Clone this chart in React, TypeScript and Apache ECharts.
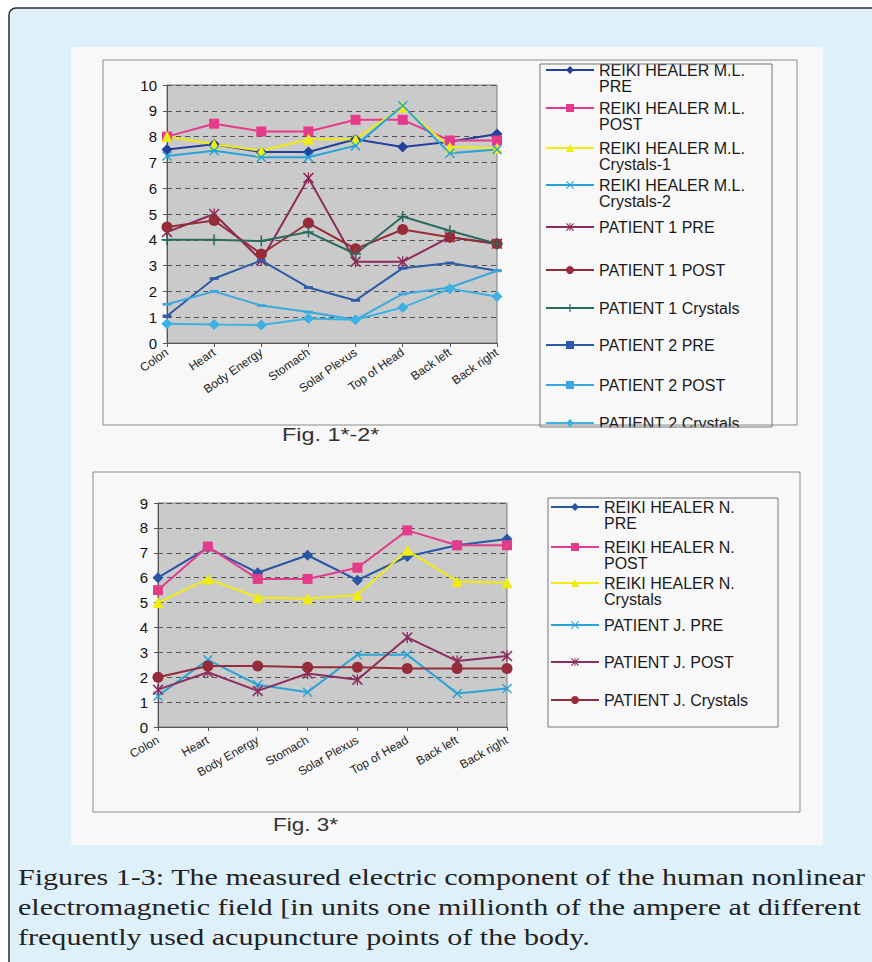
import React, { useEffect, useRef } from "react";
import * as echarts from "echarts";

const categories = ["Colon", "Heart", "Body Energy", "Stomach", "Solar Plexus", "Top of Head", "Back left", "Back right"];

// Fig. 1*-2*
const mlPre = [7.5, 7.7, 7.4, 7.4, 7.9, 7.6, 7.8, 8.1];
const mlPost = [8.0, 8.5, 8.2, 8.2, 8.65, 8.65, 7.85, 7.85];
const mlCrystals1 = [8.0, 7.7, 7.45, 7.9, 7.9, 9.15, 7.6, 7.55];
const mlCrystals2 = [7.25, 7.45, 7.2, 7.2, 7.65, 9.2, 7.35, 7.5];
const p1Pre = [4.3, 5.0, 3.2, 6.4, 3.15, 3.15, 4.1, 3.85];
const p1Post = [4.5, 4.75, 3.45, 4.65, 3.65, 4.4, 4.1, 3.85];
const p1Crystals = [4.0, 4.0, 3.95, 4.3, 3.45, 4.9, 4.35, 3.85];
const p2Pre = [1.05, 2.5, 3.2, 2.15, 1.65, 2.9, 3.1, 2.8];
const p2Post = [1.5, 2.0, 1.45, 1.2, 0.9, 1.9, 2.15, 2.8];
const p2Crystals = [0.75, 0.72, 0.7, 0.95, 0.9, 1.38, 2.1, 1.8];

// Fig. 3*
const nPre = [6.0, 7.2, 6.2, 6.9, 5.9, 6.85, 7.3, 7.55];
const nPost = [5.5, 7.25, 5.95, 5.95, 6.4, 7.9, 7.3, 7.3];
const nCrystals = [5.0, 5.95, 5.2, 5.15, 5.3, 7.1, 5.85, 5.8];
const jPre = [1.25, 2.7, 1.7, 1.4, 2.9, 2.9, 1.35, 1.55];
const jPost = [1.5, 2.2, 1.45, 2.15, 1.9, 3.6, 2.65, 2.85];
const jCrystals = [2.0, 2.45, 2.45, 2.4, 2.4, 2.35, 2.35, 2.35];

const topYMax = 10;
const bottomYMax = 9;

const captionLines = [
  "Figures 1-3: The measured electric component of the human nonlinear",
  "electromagnetic field [in units one millionth of the ampere at different",
  "frequently used acupuncture points of the body.",
];

const X_PATH = "path://M0,1L1,0L5,4L9,0L10,1L6,5L10,9L9,10L5,6L1,10L0,9L4,5Z";
const STAR_PATH = "path://M0,1L1,0L5,4L9,0L10,1L6,5L10,9L9,10L5,6L1,10L0,9L4,5ZM4.4,0L5.6,0L5.6,10L4.4,10Z";
const PLUS_PATH = "path://M4.3,0L5.7,0L5.7,4.3L10,4.3L10,5.7L5.7,5.7L5.7,10L4.3,10L4.3,5.7L0,5.7L0,4.3L4.3,4.3Z";
const DASH_PATH = "path://M0,0L10,0L10,3L0,3Z";

const topSeries: [string, number[], string, string, any][] = [
  ["REIKI HEALER M.L. PRE", mlPre, "#23419a", "diamond", 11],
  ["REIKI HEALER M.L. POST", mlPost, "#e63a8c", "rect", 10],
  ["REIKI HEALER M.L. Crystals-1", mlCrystals1, "#f0ec10", "triangle", 11],
  ["REIKI HEALER M.L. Crystals-2", mlCrystals2, "#25a3d9", X_PATH, 10],
  ["PATIENT 1 PRE", p1Pre, "#8c2a5c", STAR_PATH, 11],
  ["PATIENT 1 POST", p1Post, "#962c38", "circle", 11],
  ["PATIENT 1 Crystals", p1Crystals, "#2b6b5f", PLUS_PATH, 11],
  ["PATIENT 2 PRE", p2Pre, "#2c5ca8", DASH_PATH, 9],
  ["PATIENT 2 POST", p2Post, "#3aa8de", DASH_PATH, 9],
  ["PATIENT 2 Crystals", p2Crystals, "#3cb1e4", "diamond", 11],
];

const bottomSeries: [string, number[], string, string, any][] = [
  ["REIKI HEALER N. PRE", nPre, "#2a55a5", "diamond", 11],
  ["REIKI HEALER N. POST", nPost, "#e23c8a", "rect", 10],
  ["REIKI HEALER N. Crystals", nCrystals, "#f0ec10", "triangle", 11],
  ["PATIENT J. PRE", jPre, "#2aa3d6", X_PATH, 10],
  ["PATIENT J. POST", jPost, "#8d2d5e", STAR_PATH, 11],
  ["PATIENT J. Crystals", jCrystals, "#962c3a", "circle", 11],
];

const topLegendCenters = [70, 108, 148, 185, 227, 270, 308, 345, 385, 423];
const bottomLegendCenters = [507, 547, 583, 625, 662, 700];

export default function App() {
  const ref = useRef<HTMLDivElement>(null);
  useEffect(() => {
    document.body.style.margin = "0";
    const chart = echarts.init(ref.current!, null, { renderer: "svg" });

    const capFamily = "Liberation Serif";
    const capSize = 23;
    const canvas = document.createElement("canvas");
    const ctx = canvas.getContext("2d")!;
    ctx.font = capSize + "px " + capFamily;
    const capW = ctx.measureText(captionLines[0]).width || 800;
    const capScale = 848 / capW;

    const mkSeries = (arr: any[], idx: number) =>
      arr.map(([name, data, color, symbol, size]) => ({
        type: "line",
        name,
        data,
        xAxisIndex: idx,
        yAxisIndex: idx,
        symbol,
        symbolSize: size,
        symbolKeepAspect: true,
        showSymbol: true,
        lineStyle: { color, width: 2 },
        itemStyle: { color },
        emphasis: { disabled: true },
        z: 3,
      }));

    const fmt = (name: string) => {
      const m = name.match(/^(REIKI HEALER (?:M\.L\.|N\.)) (.+)$/);
      return m ? "\n" + m[1] + "\n" + m[2] : name;
    };

    const LH = 16;
    const mkLegends = (arr: any[], centers: number[], left: number) =>
      arr.map(([name], i) => {
        const two = name.startsWith("REIKI");
        return {
          data: [name],
          orient: "vertical",
          left,
          top: two ? centers[i] - 1.5 * LH : centers[i] - LH / 2,
          padding: 0,
          itemWidth: 48,
          itemHeight: 10,
          itemGap: 0,
          selectedMode: false,
          formatter: fmt,
          textStyle: {
            fontSize: 16,
            lineHeight: LH,
            color: "#1a1a1a",
            fontFamily: "Liberation Sans",
          },
        };
      });

    const xAxisBase = (rotate: number, margin: number) => ({
      type: "category",
      data: categories,
      boundaryGap: false,
      axisLine: { show: true, lineStyle: { color: "#555", width: 1 } },
      axisTick: { show: true, length: 4, lineStyle: { color: "#555" } },
      axisLabel: { rotate, margin, fontSize: 12, color: "#222", fontFamily: "Liberation Sans", interval: 0 },
      splitLine: { show: false },
    });

    const yAxisBase = (max: number) => ({
      type: "value",
      min: 0,
      max,
      interval: 1,
      axisLine: { show: true, lineStyle: { color: "#555", width: 1 } },
      axisTick: { show: true, length: 4, lineStyle: { color: "#555" } },
      axisLabel: { fontSize: 15, color: "#111", fontFamily: "Liberation Sans", margin: 10 },
      splitLine: { show: true, lineStyle: { color: "#555", type: [5, 4], width: 1 } },
    });

    const bg = "#f8f8f8";

    chart.setOption({
      animation: false,
      grid: [
        { left: 167, top: 85, width: 330, height: 258, show: true, backgroundColor: "#cacaca", borderColor: "#7a7a7a", borderWidth: 1 },
        { left: 158, top: 503, width: 349, height: 224, show: true, backgroundColor: "#cacaca", borderColor: "#7a7a7a", borderWidth: 1 },
      ],
      xAxis: [
        { ...xAxisBase(35, 8), gridIndex: 0 },
        { ...xAxisBase(30, 12), gridIndex: 1 },
      ],
      yAxis: [
        { ...yAxisBase(topYMax), gridIndex: 0 },
        { ...yAxisBase(bottomYMax), gridIndex: 1 },
      ],
      legend: [...mkLegends(topSeries, topLegendCenters, 545), ...mkLegends(bottomSeries, bottomLegendCenters, 550)],
      series: [...mkSeries(topSeries, 0), ...mkSeries(bottomSeries, 1)],
      graphic: [
        { type: "rect", z: -5, shape: { x: 9, y: 8, width: 900, height: 1000, r: [7, 0, 0, 0] }, style: { fill: "#def1fb", stroke: "#2b2b2b", lineWidth: 1.5 } },
        { type: "rect", z: -4, shape: { x: 71, y: 47, width: 752, height: 798 }, style: { fill: bg } },
        { type: "rect", z: -3, shape: { x: 103, y: 60, width: 694, height: 365 }, style: { fill: "none", stroke: "#8a8a8a", lineWidth: 1 } },
        { type: "rect", z: -3, shape: { x: 93, y: 472, width: 707, height: 340 }, style: { fill: "none", stroke: "#8a8a8a", lineWidth: 1 } },
        { type: "rect", z: 20, shape: { x: 534, y: 427.5, width: 250, height: 20 }, style: { fill: bg } },
        { type: "rect", z: 21, shape: { x: 540, y: 64, width: 232, height: 363 }, style: { fill: "none", stroke: "#777", lineWidth: 1 } },
        { type: "rect", z: 21, shape: { x: 548, y: 498, width: 230, height: 229 }, style: { fill: "none", stroke: "#777", lineWidth: 1 } },
        { type: "text", z: 21, x: 282, y: 435, scaleX: 1.3, style: { text: "Fig. 1*-2*", fontSize: 18, fontFamily: "Liberation Sans", fill: "#333", verticalAlign: "middle" } },
        { type: "text", z: 21, x: 273, y: 825, scaleX: 1.25, style: { text: "Fig. 3*", fontSize: 18, fontFamily: "Liberation Sans", fill: "#333", verticalAlign: "middle" } },
        ...captionLines.map((t, i) => ({
          type: "text",
          z: 21,
          x: 18,
          y: 877 + i * 30,
          scaleX: capScale,
          style: { text: t, fontSize: capSize, fontFamily: capFamily, fill: "#222", verticalAlign: "middle" },
        })),
      ],
    });
    return () => chart.dispose();
  }, []);
  return <div ref={ref} style={{ width: 872, height: 962 }} />;
}
